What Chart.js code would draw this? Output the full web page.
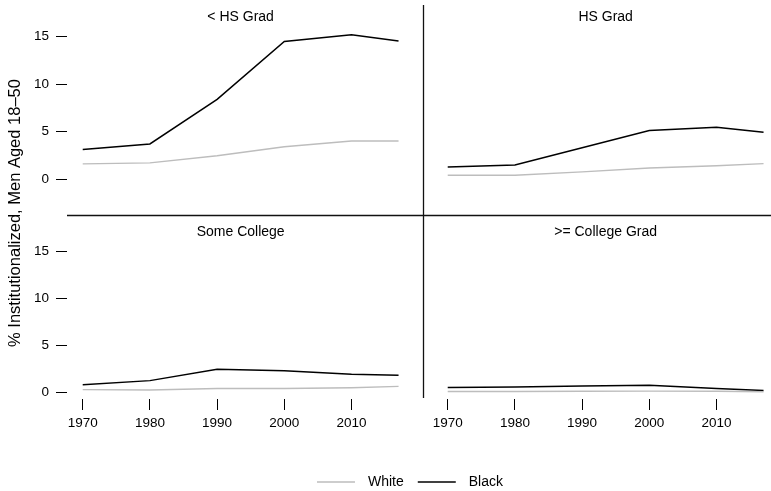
<!DOCTYPE html>
<html>
<head>
<meta charset="utf-8">
<script src="https://cdn.jsdelivr.net/npm/chart.js@4/dist/chart.umd.min.js"></script>
<style>
  html, body { margin: 0; padding: 0; background: #fff; }
  #wrap { position: relative; width: 771px; height: 491px; }
  #wrap canvas { position: absolute; left: 0; top: 0; }
</style>
</head>
<body>
<div id="wrap">
  <canvas id="pLessHS" width="771" height="491"></canvas>
  <canvas id="pHS" width="771" height="491"></canvas>
  <canvas id="pSomeCol" width="771" height="491"></canvas>
  <canvas id="pColGrad" width="771" height="491"></canvas>
</div>
<script>
// Census years
const years = [1970, 1980, 1990, 2000, 2010, 2017];

// Percent institutionalized, men aged 18-50, by education
const whiteLessHS  = [1.6, 1.7, 2.45, 3.4, 4.0, 4.0];
const blackLessHS  = [3.1, 3.7, 8.4, 14.5, 15.2, 14.55];
const whiteHS      = [0.39, 0.39, 0.75, 1.16, 1.4, 1.62];
const blackHS      = [1.27, 1.48, 3.3, 5.1, 5.45, 4.93];
const whiteSomeCol = [0.32, 0.28, 0.45, 0.45, 0.53, 0.67];
const blackSomeCol = [0.85, 1.28, 2.48, 2.34, 1.95, 1.84];
const whiteColGrad = [0.13, 0.13, 0.15, 0.17, 0.15, 0.1];
const blackColGrad = [0.55, 0.6, 0.7, 0.8, 0.45, 0.22];

const panelTitles = ['< HS Grad', 'HS Grad', 'Some College', '>= College Grad'];
const seriesNames = ['White', 'Black'];
const yTickValues = [0, 5, 10, 15];
const xTickValues = [1970, 1980, 1990, 2000, 2010];
const yAxisTitle = '% Institutionalized, Men Aged 18\u201350';

const FONT = '"Liberation Sans", Arial, Helvetica, sans-serif';
const W = 771, H = 491;
const COLORS = { White: '#bdbdbd', Black: '#000000' };

// panel grid geometry: columns [left,right], rows [top,bottom]
const colX = [[67, 423], [423, 771]];
const rowY = [[0, 215], [215, 399]];
const xRanges = [[1967.66, 2020.64], [1966.32, 2018.11]];
const yRanges = [[-3.79, 18.86], [-0.67, 18.86]];
const Y_AXIS_W = 67, X_AXIS_H = 40;

const panelDecor = {
  id: 'panelDecor',
  afterDatasetsDraw(chart, args, opts) {
    const { ctx, chartArea: a } = chart;
    const x = chart.scales.x;
    ctx.save();
    ctx.fillStyle = '#000';
    ctx.font = '14px ' + FONT;
    ctx.textAlign = 'center';
    ctx.textBaseline = 'middle';
    ctx.fillText(opts.title, x.getPixelForValue(opts.titleAt), a.top + 17);
    ctx.strokeStyle = '#111';
    ctx.lineWidth = 1.3;
    if (opts.edgeBottom) {
      ctx.beginPath();
      ctx.moveTo(a.left, a.bottom + 0.5);
      ctx.lineTo(a.right, a.bottom + 0.5);
      ctx.stroke();
    }
    if (opts.edgeLeft) {
      ctx.beginPath();
      ctx.moveTo(a.left + 0.5, a.top + opts.edgeLeftStart);
      ctx.lineTo(a.left + 0.5, a.bottom - opts.edgeLeftEnd);
      ctx.stroke();
    }
    if (opts.yTitle) {
      ctx.save();
      ctx.translate(15, 213);
      ctx.rotate(-Math.PI / 2);
      ctx.font = '16.5px ' + FONT;
      ctx.fillText(opts.yTitle, 0, 0);
      ctx.restore();
    }
    if (opts.legend) {
      // legend: line sample + label per series, centred below the panels
      ctx.font = '14px ' + FONT;
      const lineLen = 38, gapText = 13, gapItem = 14;
      const items = chart.data.datasets.map(d => ({
        label: d.label, color: d.borderColor, w: ctx.measureText(d.label).width, lw: d.borderWidth
      }));
      let total = 0;
      items.forEach((it, i) => { total += lineLen + gapText + it.w + (i < items.length - 1 ? gapItem : 0); });
      let cx = 410 - total / 2;
      const cy = 482;
      ctx.textAlign = 'left';
      items.forEach(it => {
        ctx.strokeStyle = it.color;
        ctx.lineWidth = it.lw;
        ctx.beginPath();
        ctx.moveTo(cx, cy);
        ctx.lineTo(cx + lineLen, cy);
        ctx.stroke();
        cx += lineLen + gapText;
        ctx.fillStyle = '#000';
        ctx.fillText(it.label, cx, cy);
        cx += it.w + gapItem;
      });
    }
    ctx.restore();
  }
};

function makePanel(id, col, row, title, white, black, extra) {
  const showY = col === 0;
  const showX = row === 1;
  const toPts = arr => years.map((yr, i) => ({ x: yr, y: arr[i] }));
  return new Chart(document.getElementById(id), {
    type: 'line',
    data: {
      datasets: [
        { label: seriesNames[0], data: toPts(white), borderColor: COLORS.White, borderWidth: 1.4 },
        { label: seriesNames[1], data: toPts(black), borderColor: COLORS.Black, borderWidth: 1.5 }
      ]
    },
    options: {
      responsive: false,
      animation: false,
      events: [],
      layout: {
        padding: {
          left: showY ? colX[col][0] - Y_AXIS_W : colX[col][0],
          right: W - colX[col][1],
          top: rowY[row][0],
          bottom: showX ? H - rowY[row][1] - X_AXIS_H : H - rowY[row][1]
        }
      },
      elements: {
        line: { tension: 0, fill: false, borderCapStyle: 'butt' },
        point: { radius: 0 }
      },
      scales: {
        x: {
          type: 'linear',
          display: showX,
          min: xRanges[col][0],
          max: xRanges[col][1],
          afterBuildTicks: s => { s.ticks = xTickValues.map(v => ({ value: v })); },
          afterFit: s => { s.height = showX ? X_AXIS_H : 0; s.paddingLeft = 0; s.paddingRight = 0; },
          ticks: {
            autoSkip: false, maxRotation: 0, color: '#000', padding: 5,
            font: { family: FONT, size: 13.5 },
            callback: v => String(v)
          },
          grid: { drawOnChartArea: false, drawTicks: true, tickLength: 11, tickColor: '#000', tickWidth: 1 },
          border: { display: false }
        },
        y: {
          type: 'linear',
          display: showY,
          min: yRanges[row][0],
          max: yRanges[row][1],
          afterBuildTicks: s => { s.ticks = yTickValues.map(v => ({ value: v })); },
          afterFit: s => { s.width = showY ? Y_AXIS_W : 0; s.paddingTop = 0; s.paddingBottom = 0; },
          ticks: { color: '#000', padding: 7, font: { family: FONT, size: 13.5 } },
          grid: { drawOnChartArea: false, drawTicks: true, tickLength: 11, tickColor: '#000', tickWidth: 1 },
          border: { display: false }
        }
      },
      plugins: {
        legend: { display: false },
        tooltip: { enabled: false },
        panelDecor: Object.assign({ title: title, titleAt: (years[0] + years[years.length - 1]) / 2,
          edgeBottom: false, edgeLeft: false, edgeLeftStart: 0, edgeLeftEnd: 0 }, extra)
      }
    },
    plugins: [panelDecor]
  });
}

makePanel('pLessHS', 0, 0, panelTitles[0], whiteLessHS, blackLessHS, { edgeBottom: true });
makePanel('pHS', 1, 0, panelTitles[1], whiteHS, blackHS, { edgeBottom: true, edgeLeft: true, edgeLeftStart: 5 });
makePanel('pSomeCol', 0, 1, panelTitles[2], whiteSomeCol, blackSomeCol, { yTitle: yAxisTitle, legend: true });
makePanel('pColGrad', 1, 1, panelTitles[3], whiteColGrad, blackColGrad, { edgeLeft: true, edgeLeftEnd: 1 });
</script>
</body>
</html>
